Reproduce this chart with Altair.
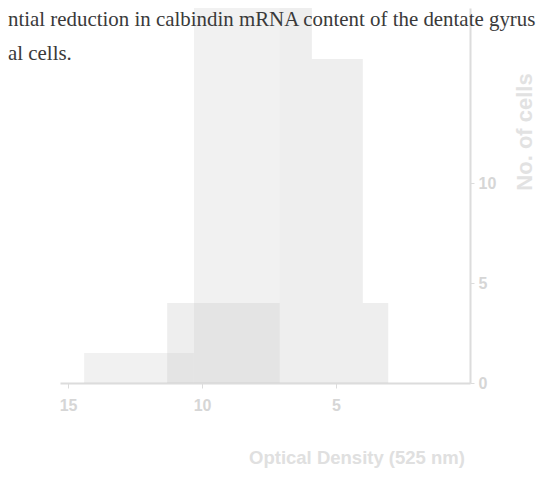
import altair as alt
import pandas as pd

# ---- data ----
header_lines = [
    "ntial reduction in calbindin mRNA content of the dentate gyrus",
    "al cells.",
]
x_title = "Optical Density (525 nm)"
y_title = "No. of cells"

series = ["A", "A", "B", "B", "B", "B"]
bin_lo = [10.3, 7.1, 3.05, 4.0, 5.9, 7.1]
bin_hi = [14.4, 10.3, 4.0, 5.9, 7.1, 11.3]
counts = [1.5, 22.0, 4.0, 16.2, 22.0, 4.0]

x_ticks = [5, 10, 15]
y_ticks = [0, 5, 10]

bars_df = pd.DataFrame({
    "series": series,
    "lo": bin_lo,
    "hi": bin_hi,
    "count": counts,
    "base": [0] * len(counts),
})

W, H = 410, 375
AX = "#dcdcdc"

bars = alt.Chart(bars_df).mark_rect(clip=True, opacity=0.3).encode(
    x=alt.X("lo:Q",
            scale=alt.Scale(domain=[0, 15.3], reverse=True, nice=False, zero=False),
            axis=alt.Axis(values=x_ticks, title=None, grid=False, domainColor=AX,
                          domainWidth=2, tickColor=AX, tickSize=5, labelPadding=9,
                          labelColor="#d6d6d6", labelFontSize=16, labelFont="Liberation Sans",
                          labelFontWeight="bold")),
    x2="hi:Q",
    y=alt.Y("count:Q",
            scale=alt.Scale(domain=[0, 18.75], nice=False),
            axis=alt.Axis(orient="right", values=y_ticks, title=None, grid=False,
                          domainColor=AX, domainWidth=2, tickColor=AX, tickSize=4,
                          labelPadding=4, labelColor="#d6d6d6", labelFontSize=16,
                          labelFont="Liberation Sans", labelFontWeight="bold")),
    y2="base:Q",
    color=alt.Color("series:N", scale=alt.Scale(domain=["A", "B"], range=["#d0d0d0", "#c6c6c6"]),
                    legend=None),
)

def txt(s, x, y, **kw):
    return alt.Chart(pd.DataFrame({"t": [s]})).mark_text(**kw).encode(
        text="t:N", x=alt.value(x), y=alt.value(y))

h1 = txt(header_lines[0], -52, 18, align="left", baseline="alphabetic",
         font="Liberation Serif", fontSize=20.9, color="#3a3a3a")
h2 = txt(header_lines[1], -52, 52, align="left", baseline="alphabetic",
         font="Liberation Serif", fontSize=20.9, color="#3a3a3a")
xt = txt(x_title, 297, 450, align="center", baseline="middle",
         font="Liberation Sans", fontSize=18.5, fontWeight="bold", color="#e0e0e0")
yt = txt(y_title, 465, 124, align="center", baseline="middle", angle=270,
         font="Liberation Sans", fontSize=22, fontWeight="bold", color="#e2e2e2")

chart = alt.layer(bars, h1, h2, xt, yt).properties(
    width=W, height=H,
    autosize=alt.AutoSizeParams(type="none"),
    padding={"left": 52, "top": 0, "right": 70, "bottom": 95},
    background="white",
).configure_view(stroke=None)

chart.save("out.html", embed_options={"renderer": "svg", "actions": False})
